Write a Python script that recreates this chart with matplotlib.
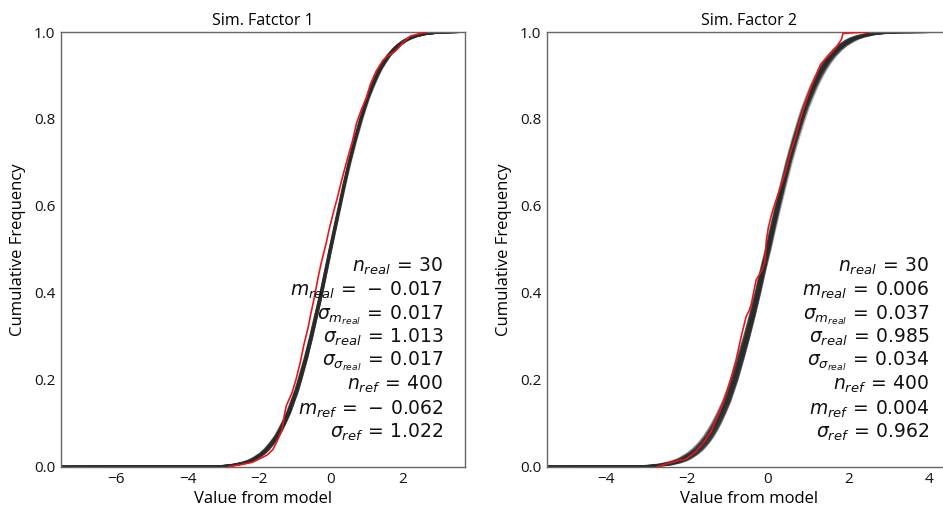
import matplotlib
matplotlib.use("Agg")
import matplotlib.pyplot as plt
import numpy as np

# ---------------- data ----------------
titles = ["Sim. Fatctor 1", "Sim. Factor 2"]

# cumulative frequency levels used for the realization curves
cdf_levels = [0.0, 0.0005, 0.001, 0.002, 0.005, 0.01, 0.015, 0.02, 0.03, 0.04, 0.055, 0.07,
              0.085, 0.1, 0.125, 0.15, 0.175, 0.2, 0.25, 0.3, 0.35, 0.4, 0.45, 0.5, 0.55,
              0.6, 0.65, 0.7, 0.75, 0.8, 0.825, 0.85, 0.875, 0.9, 0.915, 0.93, 0.945, 0.96,
              0.97, 0.98, 0.985, 0.99, 0.995, 0.998, 0.999, 0.9995, 1.0]

# typical realization curve (x value at each level), factor 1 and factor 2
real1_x = [-7.54, -3.35, -3.15, -2.93, -2.63, -2.37, -2.21, -2.10, -1.92, -1.79, -1.64, -1.51,
           -1.41, -1.32, -1.18, -1.07, -0.96, -0.87, -0.70, -0.55, -0.41, -0.27, -0.145,
           -0.02, 0.11, 0.24, 0.37, 0.51, 0.665, 0.835, 0.93, 1.03, 1.15, 1.28, 1.37, 1.48,
           1.60, 1.76, 1.89, 2.06, 2.18, 2.34, 2.59, 2.90, 3.11, 3.32, 3.74]
real2_x = [-5.46, -3.23, -3.04, -2.83, -2.53, -2.29, -2.13, -2.02, -1.85, -1.72, -1.57, -1.45,
           -1.35, -1.26, -1.13, -1.01, -0.915, -0.82, -0.66, -0.51, -0.37, -0.24, -0.12,
           0.01, 0.13, 0.255, 0.385, 0.52, 0.67, 0.835, 0.925, 1.03, 1.14, 1.27, 1.36, 1.46,
           1.58, 1.73, 1.86, 2.03, 2.14, 2.30, 2.54, 2.84, 3.05, 3.25, 4.54]

# per-realization offsets and spreads (30 realizations)
real1_shift = [0.02, -0.01, 0.0, 0.03, -0.02, 0.01, -0.01, 0.02, -0.02, 0.0,
               0.025, -0.01, 0.005, -0.03, 0.015, -0.015, 0.01, 0.035, -0.005, 0.0,
               -0.02, 0.02, 0.005, -0.01, 0.015, -0.025, 0.01, 0.0, -0.015, 0.025]
real1_scale = [1.01, 0.985, 1.025, 0.995, 1.005, 0.975, 1.015, 0.99, 1.03, 1.0,
               0.98, 1.02, 0.995, 1.01, 0.97, 1.005, 0.985, 1.015, 1.0, 0.99,
               1.025, 0.98, 1.01, 0.995, 1.02, 0.985, 1.005, 0.975, 1.015, 1.0]
real2_shift = [0.04, -0.03, 0.01, 0.06, -0.05, 0.02, -0.01, 0.03, -0.04, 0.0,
               0.05, -0.02, 0.01, -0.06, 0.03, -0.03, 0.02, 0.07, -0.01, 0.0,
               -0.04, 0.04, 0.01, -0.02, 0.03, -0.05, 0.02, 0.0, -0.03, 0.05]
real2_scale = [1.02, 0.97, 1.05, 0.99, 1.01, 0.95, 1.03, 0.98, 1.06, 1.0,
               0.96, 1.04, 0.99, 1.02, 0.94, 1.01, 0.97, 1.03, 1.0, 0.98,
               1.05, 0.96, 1.02, 0.99, 1.04, 0.97, 1.01, 0.95, 1.03, 1.0]

# reference distribution (red), factor 1
ref1_x = [-2.85, -2.5, -2.2, -1.95, -1.78, -1.62, -1.5, -1.37, -1.30, -1.25, -1.09, -0.98,
          -0.86, -0.76, -0.70, -0.64, -0.57, -0.49, -0.42, -0.35, -0.27, -0.21, -0.12,
          -0.07, 0.05, 0.18, 0.30, 0.43, 0.60, 0.71, 0.84, 0.99, 1.10, 1.26, 1.45, 1.58,
          1.78, 1.90, 2.00, 2.2, 2.45, 2.65]
ref1_f = [0.0, 0.005, 0.01, 0.02, 0.027, 0.04, 0.06, 0.085, 0.12, 0.14, 0.17, 0.20,
          0.24, 0.28, 0.30, 0.32, 0.35, 0.38, 0.41, 0.44, 0.47, 0.49, 0.52,
          0.54, 0.58, 0.62, 0.66, 0.70, 0.75, 0.79, 0.82, 0.85, 0.88, 0.91, 0.935, 0.945,
          0.955, 0.965, 0.975, 0.99, 0.996, 1.0]

# reference distribution (red), factor 2
ref2_x = [-2.73, -2.44, -2.2, -2.03, -1.78, -1.57, -1.4, -1.28, -1.15, -1.03, -0.9, -0.78,
          -0.65, -0.53, -0.45, -0.4, -0.28, -0.15, -0.07, -0.03, 0.02, 0.1, 0.2, 0.31,
          0.45, 0.56, 0.7, 0.81, 0.95, 1.06, 1.2, 1.31, 1.45, 1.56, 1.7, 1.83, 1.87, 2.5]
ref2_f = [0.0, 0.008, 0.014, 0.017, 0.034, 0.057, 0.08, 0.107, 0.135, 0.165, 0.205, 0.245,
          0.30, 0.345, 0.36, 0.375, 0.43, 0.45, 0.47, 0.52, 0.55, 0.58, 0.61, 0.64,
          0.68, 0.72, 0.76, 0.80, 0.84, 0.87, 0.90, 0.925, 0.94, 0.95, 0.965, 0.983, 0.997, 1.0]

stats1 = ["30", "-0.017", "0.017", "1.013", "0.017", "400", "-0.062", "1.022"]
stats2 = ["30", "0.006", "0.037", "0.985", "0.034", "400", "0.004", "0.962"]
stat_names = [r"n_{real}", r"m_{real}", r"\sigma_{m_{real}}", r"\sigma_{real}",
              r"\sigma_{\sigma_{real}}", r"n_{ref}", r"m_{ref}", r"\sigma_{ref}"]

xlims = [(-7.54, 3.74), (-5.46, 4.54)]
xticks = [[-6, -4, -2, 0, 2], [-4, -2, 0, 2, 4]]
yticks = [0.0, 0.2, 0.4, 0.6, 0.8, 1.0]

# ---------------- plot ----------------
plt.rcParams['font.family'] = ['Open Sans', 'DejaVu Sans']
plt.rcParams['mathtext.fontset'] = 'dejavusans'

fig = plt.figure(figsize=(9.43, 5.13), dpi=100)
ax1 = fig.add_axes([0.0647, 0.0903, 0.4284, 0.8473])
ax2 = fig.add_axes([0.5800, 0.0903, 0.4284, 0.8473])

panels = [
    (ax1, real1_x, real1_shift, real1_scale, ref1_x, ref1_f, stats1),
    (ax2, real2_x, real2_shift, real2_scale, ref2_x, ref2_f, stats2),
]

baselines = [0.448, 0.393, 0.340, 0.285, 0.232, 0.176, 0.120, 0.066]

for i, (ax, bx, shifts, scales, rx, rf, stats) in enumerate(panels):
    bx = np.array(bx)
    for s, k in zip(shifts, scales):
        xr = bx * k + s
        xr[0] = bx[0]
        xr[-1] = bx[-1]
        ax.plot(xr, cdf_levels, color='#2a2a2a', alpha=0.35, lw=1.3, zorder=2)
    ax.plot(rx, rf, color='#e8161b', lw=1.2, zorder=3)

    ax.set_xlim(*xlims[i])
    ax.set_ylim(0, 1)
    ax.set_xticks(xticks[i])
    ax.set_xticklabels([("\u2212" if t < 0 else "") + str(abs(t)) for t in xticks[i]])
    ax.set_yticks(yticks)
    ax.set_yticklabels(["%.1f" % t for t in yticks])
    ax.tick_params(length=0, labelsize=11, pad=4, colors='#111111')
    for sp in ax.spines.values():
        sp.set_color('#666666')
        sp.set_linewidth(1.0)
    ax.set_title(titles[i], fontsize=11.5, pad=5)
    ax.set_xlabel("Value from model", fontsize=12, labelpad=3)
    ax.set_ylabel("Cumulative Frequency", fontsize=12, labelpad=6)

    for name, val, yb in zip(stat_names, stats, baselines):
        v = val.replace("-", r"-\,")
        ax.text(0.947, yb, r"$%s\,=\,%s$" % (name, v), transform=ax.transAxes,
                ha='right', va='baseline', fontsize=13.5, color='#111111')

fig.savefig("out.png", dpi=100)
